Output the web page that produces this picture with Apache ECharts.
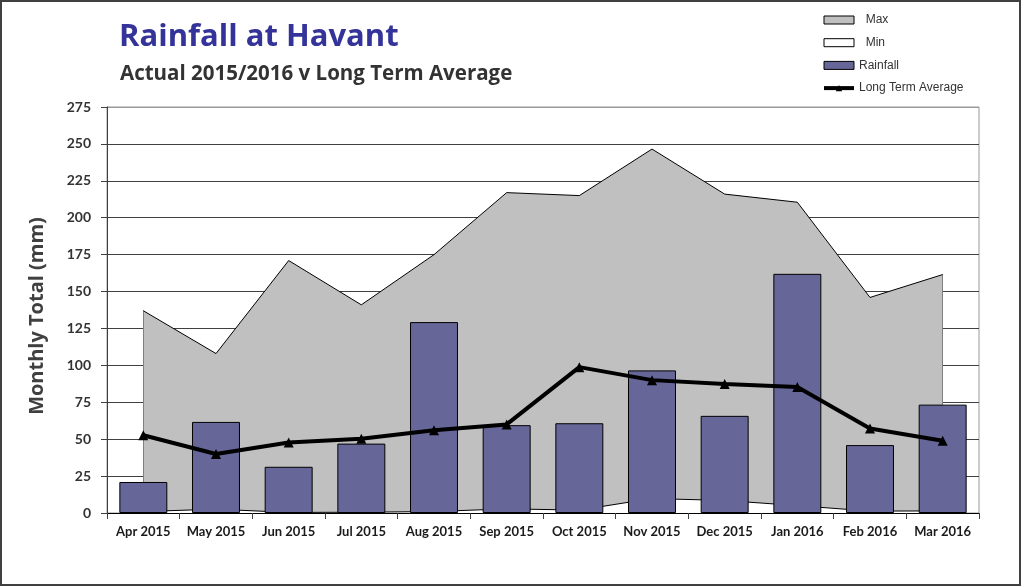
<!DOCTYPE html>
<html>
<head>
<meta charset="utf-8">
<title>Rainfall at Havant</title>
<script src="https://cdn.jsdelivr.net/npm/echarts@6/dist/echarts.min.js"></script>
<style>
    html, body { margin: 0; padding: 0; background: #fff; }
    #chart { width: 1024px; height: 587px; }
</style>
</head>
<body>
<div id="chart"></div>
<script>
// months on the x axis
var months = ['Apr 2015', 'May 2015', 'Jun 2015', 'Jul 2015', 'Aug 2015', 'Sep 2015',
    'Oct 2015', 'Nov 2015', 'Dec 2015', 'Jan 2016', 'Feb 2016', 'Mar 2016']
// highest monthly total on record (mm)
var maxVals = [137, 108, 171, 141, 175, 217, 215, 246.5, 216, 210.5, 146, 161.5]
// lowest monthly total on record (mm)
var minVals = [1, 2.6, 0.4, 0.5, 1, 2.8, 2, 9.8, 8.5, 5, 1.3, 1.4]
// actual 2015/2016 rainfall (mm)
var rainfall = [21, 61.7, 31.3, 47, 129.3, 59.5, 60.8, 96.6, 65.8, 162, 46, 73.4]
// long term average (mm)
var ltaVals = [52.7, 40, 47.7, 50.3, 56, 60, 98.8, 90, 87.3, 85.3, 57.3, 49]

var last = months.length - 1
var myChart = echarts.init(document.getElementById('chart'))

// grid lines dark, the one at the top of the plot grey like the frame
var splitColors = []
for (var i = 0; i < 11; i++) splitColors.push('#404040')
splitColors.push('#999999')

myChart.setOption({
    animation: false,
    backgroundColor: '#fff',
    graphic: [{
        type: 'rect',
        shape: { x: 1, y: 1, width: 1019, height: 584 },
        style: { fill: 'none', stroke: '#404040', lineWidth: 2 },
        silent: true
    }],
    title: [{
        text: 'Rainfall at Havant',
        left: 119,
        top: 22,
        padding: 0,
        textStyle: { fontFamily: 'Open Sans', fontWeight: 'bold', fontSize: 31, color: '#333399' }
    }, {
        text: 'Actual 2015/2016 v Long Term Average',
        left: 120,
        top: 64,
        padding: 0,
        textStyle: { fontFamily: 'Open Sans', fontWeight: 'bold', fontSize: 20.5, color: '#333333' }
    }],
    legend: {
        orient: 'vertical',
        left: 822,
        top: 13,
        padding: 0,
        itemWidth: 30,
        itemHeight: 8,
        itemGap: 8.7,
        selectedMode: false,
        textStyle: { fontFamily: 'Liberation Sans', fontSize: 12, color: '#333', lineHeight: 14 },
        formatter: function (name) {
            return (name === 'Max' || name === 'Min') ? '  ' + name : name
        },
        data: [
            { name: 'Max', icon: 'rect', itemStyle: { color: '#c0c0c0', borderColor: '#000', borderWidth: 1 } },
            { name: 'Min', icon: 'rect', itemStyle: { color: '#ffffff', borderColor: '#000', borderWidth: 1 } },
            { name: 'Rainfall', icon: 'rect', itemStyle: { color: '#666699', borderColor: '#000', borderWidth: 1 } },
            { name: 'Long Term Average', lineStyle: { width: 4 } }
        ]
    },
    grid: {
        left: 107,
        right: 45,
        top: 107,
        bottom: 74,
        show: true,
        borderColor: '#999999',
        borderWidth: 1
    },
    xAxis: {
        type: 'category',
        data: months,
        boundaryGap: true,
        axisLine: { lineStyle: { color: '#000', width: 1 } },
        axisTick: { show: true, length: 6, lineStyle: { color: '#404040' } },
        axisLabel: {
            interval: 0,
            margin: 12,
            fontFamily: 'Lato',
            fontWeight: 'bold',
            fontSize: 13,
            color: '#1a1a1a'
        }
    },
    yAxis: {
        type: 'value',
        min: 0,
        max: 275,
        interval: 25,
        name: 'Monthly Total (mm)',
        nameLocation: 'middle',
        nameGap: 60,
        nameTextStyle: {
            fontFamily: 'Open Sans', fontWeight: 'bold', fontSize: 20, color: '#404040',
            padding: [0, 12, 0, 0]
        },
        axisLine: { show: true, lineStyle: { color: '#404040', width: 1 } },
        axisTick: { show: true, length: 6, lineStyle: { color: '#404040' } },
        axisLabel: {
            margin: 16,
            fontFamily: 'Lato',
            fontWeight: 'bold',
            fontSize: 14,
            color: '#333'
        },
        splitLine: { show: true, lineStyle: { color: splitColors, width: 1 } }
    },
    series: [
        {
            name: 'Max',
            type: 'line',
            z: 1,
            data: maxVals,
            symbol: 'none',
            color: '#c0c0c0',
            lineStyle: { color: '#000', width: 1 },
            areaStyle: { color: '#c0c0c0', opacity: 1 },
            // vertical edges of the area at the first and last month
            markLine: {
                z: 1,
                silent: true,
                symbol: 'none',
                label: { show: false },
                lineStyle: { color: '#000', width: 1, type: 'solid' },
                data: [
                    [{ coord: [months[0], 0] }, { coord: [months[0], maxVals[0]] }],
                    [{ coord: [months[last], 0] }, { coord: [months[last], maxVals[last]] }]
                ]
            }
        },
        {
            name: 'Min',
            type: 'line',
            z: 1,
            data: minVals,
            symbol: 'none',
            color: '#ffffff',
            lineStyle: { color: '#000', width: 1 },
            areaStyle: { color: '#ffffff', opacity: 1 }
        },
        {
            name: 'Rainfall',
            type: 'bar',
            z: 3,
            data: rainfall,
            barWidth: '66%',
            itemStyle: { color: '#666699', borderColor: '#000', borderWidth: 1 }
        },
        {
            name: 'Long Term Average',
            type: 'line',
            z: 4,
            data: ltaVals,
            symbol: 'triangle',
            symbolSize: 10,
            color: '#000',
            lineStyle: { color: '#000', width: 4 },
            itemStyle: { color: '#000' }
        }
    ]
})
</script>
</body>
</html>
